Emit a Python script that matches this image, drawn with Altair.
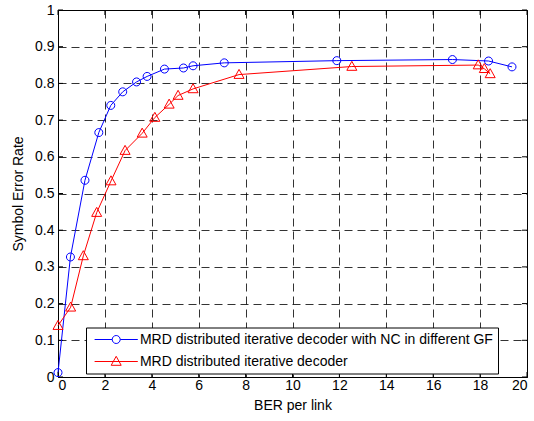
import altair as alt
import pandas as pd

series_names = [
    "MRD distributed iterative decoder with NC in different GF",
    "MRD distributed iterative decoder",
]
blue_x = [0, 0.53, 1.15, 1.74, 2.25, 2.76, 3.35, 3.80, 4.54, 5.35, 5.76, 7.09, 11.89, 16.82, 18.36, 19.36]
blue_y = [0.012, 0.327, 0.536, 0.666, 0.740, 0.777, 0.804, 0.819, 0.839, 0.842, 0.848, 0.856, 0.862, 0.865, 0.861, 0.845]
red_x = [0, 0.54, 1.08, 1.65, 2.26, 2.86, 3.59, 4.13, 4.74, 5.12, 5.76, 7.72, 12.53, 17.92, 18.18, 18.43]
red_y = [0.140, 0.190, 0.330, 0.448, 0.534, 0.617, 0.664, 0.707, 0.743, 0.767, 0.785, 0.824, 0.846, 0.850, 0.840, 0.826]
x_ticks = [0, 2, 4, 6, 8, 10, 12, 14, 16, 18, 20]
y_ticks = [0, 0.1, 0.2, 0.3, 0.4, 0.5, 0.6, 0.7, 0.8, 0.9, 1.0]
colors = ["#0000ff", "#ff0000"]

rows = []
for xs, ys, name in [(blue_x, blue_y, series_names[0]), (red_x, red_y, series_names[1])]:
    for i, (a, b) in enumerate(zip(xs, ys)):
        rows.append({"x": a, "y": b, "series": name, "idx": i})
df = pd.DataFrame(rows)
xt = pd.DataFrame({"x": x_ticks})
yt = pd.DataFrame({"y": y_ticks})

W, H = 469, 367
FONT = "Liberation Sans"

CIRCLE = "M1,0A1,1,0,1,1,-1,0A1,1,0,1,1,1,0Z"
TRI = "M0,-1.3L1.25,0.95L-1.25,0.95Z"
LEG_CIRCLE = "M-5.4,0L-1,0M1,0L5.4,0M1,0A1,1,0,1,1,-1,0A1,1,0,1,1,1,0Z"
LEG_TRI = "M-5.4,0L5.4,0M0,-1.3L1.25,0.95L-1.25,0.95Z"

xs = alt.Scale(domain=[0, 20], nice=False, zero=False)
ys = alt.Scale(domain=[0, 1], nice=False, zero=False)
x_axis = alt.Axis(values=x_ticks, title="BER per link", format="d", grid=True)
y_axis = alt.Axis(values=y_ticks, title="Symbol Error Rate", grid=True,
                  labelExpr="datum.value == 0 ? '0' : datum.value == 1 ? '1' : format(datum.value, '.1f')")


def X(field="x"):
    return alt.X(f"{field}:Q", scale=xs, axis=x_axis)


def Y(field="y"):
    return alt.Y(f"{field}:Q", scale=ys, axis=y_axis)


col_scale = alt.Scale(domain=series_names, range=colors)

lines = alt.Chart(df).mark_line(strokeWidth=1).encode(
    x=X(), y=Y(),
    color=alt.Color("series:N", scale=col_scale, legend=None),
    order=alt.Order("idx:Q"),
)

points = alt.Chart(df).mark_point(filled=False, size=64, strokeWidth=1, opacity=1).encode(
    x=X(), y=Y(),
    color=alt.Color("series:N", scale=col_scale, legend=None),
    shape=alt.Shape("series:N", scale=alt.Scale(domain=series_names, range=[CIRCLE, TRI]), legend=None),
)

leg = alt.Legend(
    title=None, orient="none", legendX=28, legendY=317.5,
    fillColor="white", strokeColor="black", padding=5, cornerRadius=0,
    symbolOffset=18.2, labelOffset=16.7, symbolSize=64, symbolStrokeWidth=1,
    labelFont=FONT, labelFontSize=14, labelColor="black", labelLimit=0,
    rowPadding=7,
)

legend_layer = alt.Chart(df).transform_filter("datum.x < -1000").mark_point(
    filled=False, size=64, strokeWidth=1, opacity=1
).encode(
    x=X(), y=Y(),
    color=alt.Color("series:N", scale=col_scale, legend=leg),
    shape=alt.Shape("series:N", scale=alt.Scale(domain=series_names, range=[LEG_CIRCLE, LEG_TRI]), legend=leg),
)

tick_len = 5
bottom_ticks = alt.Chart(xt).mark_rule(color="black", strokeWidth=1).encode(
    x=X(), y=alt.value(H), y2=alt.value(H - tick_len))
top_ticks = alt.Chart(xt).mark_rule(color="black", strokeWidth=1).encode(
    x=X(), y=alt.value(0), y2=alt.value(tick_len))
left_ticks = alt.Chart(yt).mark_rule(color="black", strokeWidth=1).encode(
    y=Y(), x=alt.value(0), x2=alt.value(tick_len))
right_ticks = alt.Chart(yt).mark_rule(color="black", strokeWidth=1).encode(
    y=Y(), x=alt.value(W - tick_len), x2=alt.value(W))

chart = alt.layer(
    bottom_ticks, top_ticks, left_ticks, right_ticks, lines, points, legend_layer
).resolve_scale(
    color="independent", shape="independent"
).properties(
    width=W, height=H,
    autosize=alt.AutoSizeParams(type="none"),
    padding={"left": 58, "top": 10, "right": 7, "bottom": 44},
    background="white",
).configure_view(
    stroke="black", strokeWidth=1
).configure_axis(
    domain=False, ticks=False, tickSize=0,
    gridColor="black", gridOpacity=0.8, gridDash=[8, 5], gridWidth=1,
    labelFont=FONT, labelFontSize=14, labelColor="black",
    titleFont=FONT, titleFontSize=14, titleColor="black", titleFontWeight="normal",
).configure_axisX(
    labelPadding=1, titlePadding=6,
).configure_axisY(
    labelPadding=4, titlePadding=9,
)

chart.save("out.html", embed_options={"renderer": "svg", "actions": False})
